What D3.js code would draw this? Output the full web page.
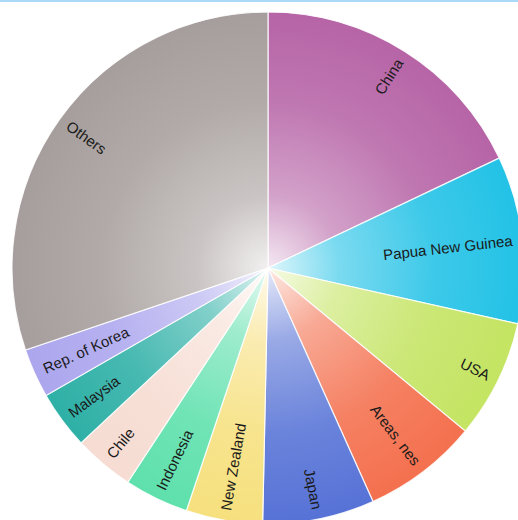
<!DOCTYPE html>
<html>
<head>
<meta charset="utf-8">
<script src="https://cdn.jsdelivr.net/npm/d3@7"></script>
<style>
  html, body { margin: 0; padding: 0; background: #ffffff; }
  svg { display: block; }
</style>
</head>
<body>
<script>
// Share of total by partner (percent), clockwise from 12 o'clock
const countries = ["China", "Papua New Guinea", "USA", "Areas, nes", "Japan", "New Zealand",
                   "Indonesia", "Chile", "Malaysia", "Rep. of Korea", "Others"];
const shares = [17.94, 10.56, 7.50, 7.28, 7.06, 4.83, 4.06, 3.81, 3.67, 3.11, 30.19];
const colors = ["#b664a6", "#22c2e6", "#c4e462", "#f4704e", "#5672d6", "#f6e07e",
                "#5ee0ac", "#f6dcd2", "#2eb0a6", "#aca6ee", "#a69e9c"];

const W = 518, H = 520;
const cx = 268, cy = 268, R = 256, labelR = 246;

const svg = d3.select("body").append("svg")
  .attr("width", W).attr("height", H);

// thin accent rule along the top edge
svg.append("rect").attr("x", 0).attr("y", 0).attr("width", W).attr("height", 2)
  .attr("fill", "#a9d9f7");

const defs = svg.append("defs");
colors.forEach((c, i) => {
  const g = defs.append("radialGradient")
    .attr("id", "grad" + i)
    .attr("gradientUnits", "userSpaceOnUse")
    .attr("cx", 0).attr("cy", 0).attr("r", R);
  g.append("stop").attr("offset", "0%").attr("stop-color", d3.interpolateRgb(c, "#ffffff")(0.85));
  g.append("stop").attr("offset", "28%").attr("stop-color", d3.interpolateRgb(c, "#ffffff")(0.4));
  g.append("stop").attr("offset", "65%").attr("stop-color", d3.interpolateRgb(c, "#ffffff")(0.12));
  g.append("stop").attr("offset", "100%").attr("stop-color", c);
});

const pie = d3.pie().sort(null).value(d => d);
const arcs = pie(shares);
const arc = d3.arc().innerRadius(0).outerRadius(R);

const g = svg.append("g").attr("transform", `translate(${cx},${cy})`);

g.selectAll("path.slice")
  .data(arcs)
  .join("path")
  .attr("class", "slice")
  .attr("d", arc)
  .attr("fill", (d, i) => `url(#grad${i})`)
  .attr("stroke", "#ffffff")
  .attr("stroke-opacity", 0.85)
  .attr("stroke-width", 1.2);

// radial labels anchored near the rim, kept upright
g.selectAll("text.label")
  .data(arcs)
  .join("text")
  .attr("class", "label")
  .attr("transform", d => {
    const mid = (d.startAngle + d.endAngle) / 2;
    const deg = mid * 180 / Math.PI;
    const x = labelR * Math.sin(mid), y = -labelR * Math.cos(mid);
    const rot = deg < 180 ? deg - 90 : deg + 90;
    return `translate(${x},${y}) rotate(${rot})`;
  })
  .attr("text-anchor", d => ((d.startAngle + d.endAngle) / 2) * 180 / Math.PI < 180 ? "end" : "start")
  .attr("dy", "0.35em")
  .attr("font-family", "Liberation Sans, Arial, sans-serif")
  .attr("font-size", 15)
  .attr("fill", "#1a1a1a")
  .text((d, i) => countries[i]);
</script>
</body>
</html>
